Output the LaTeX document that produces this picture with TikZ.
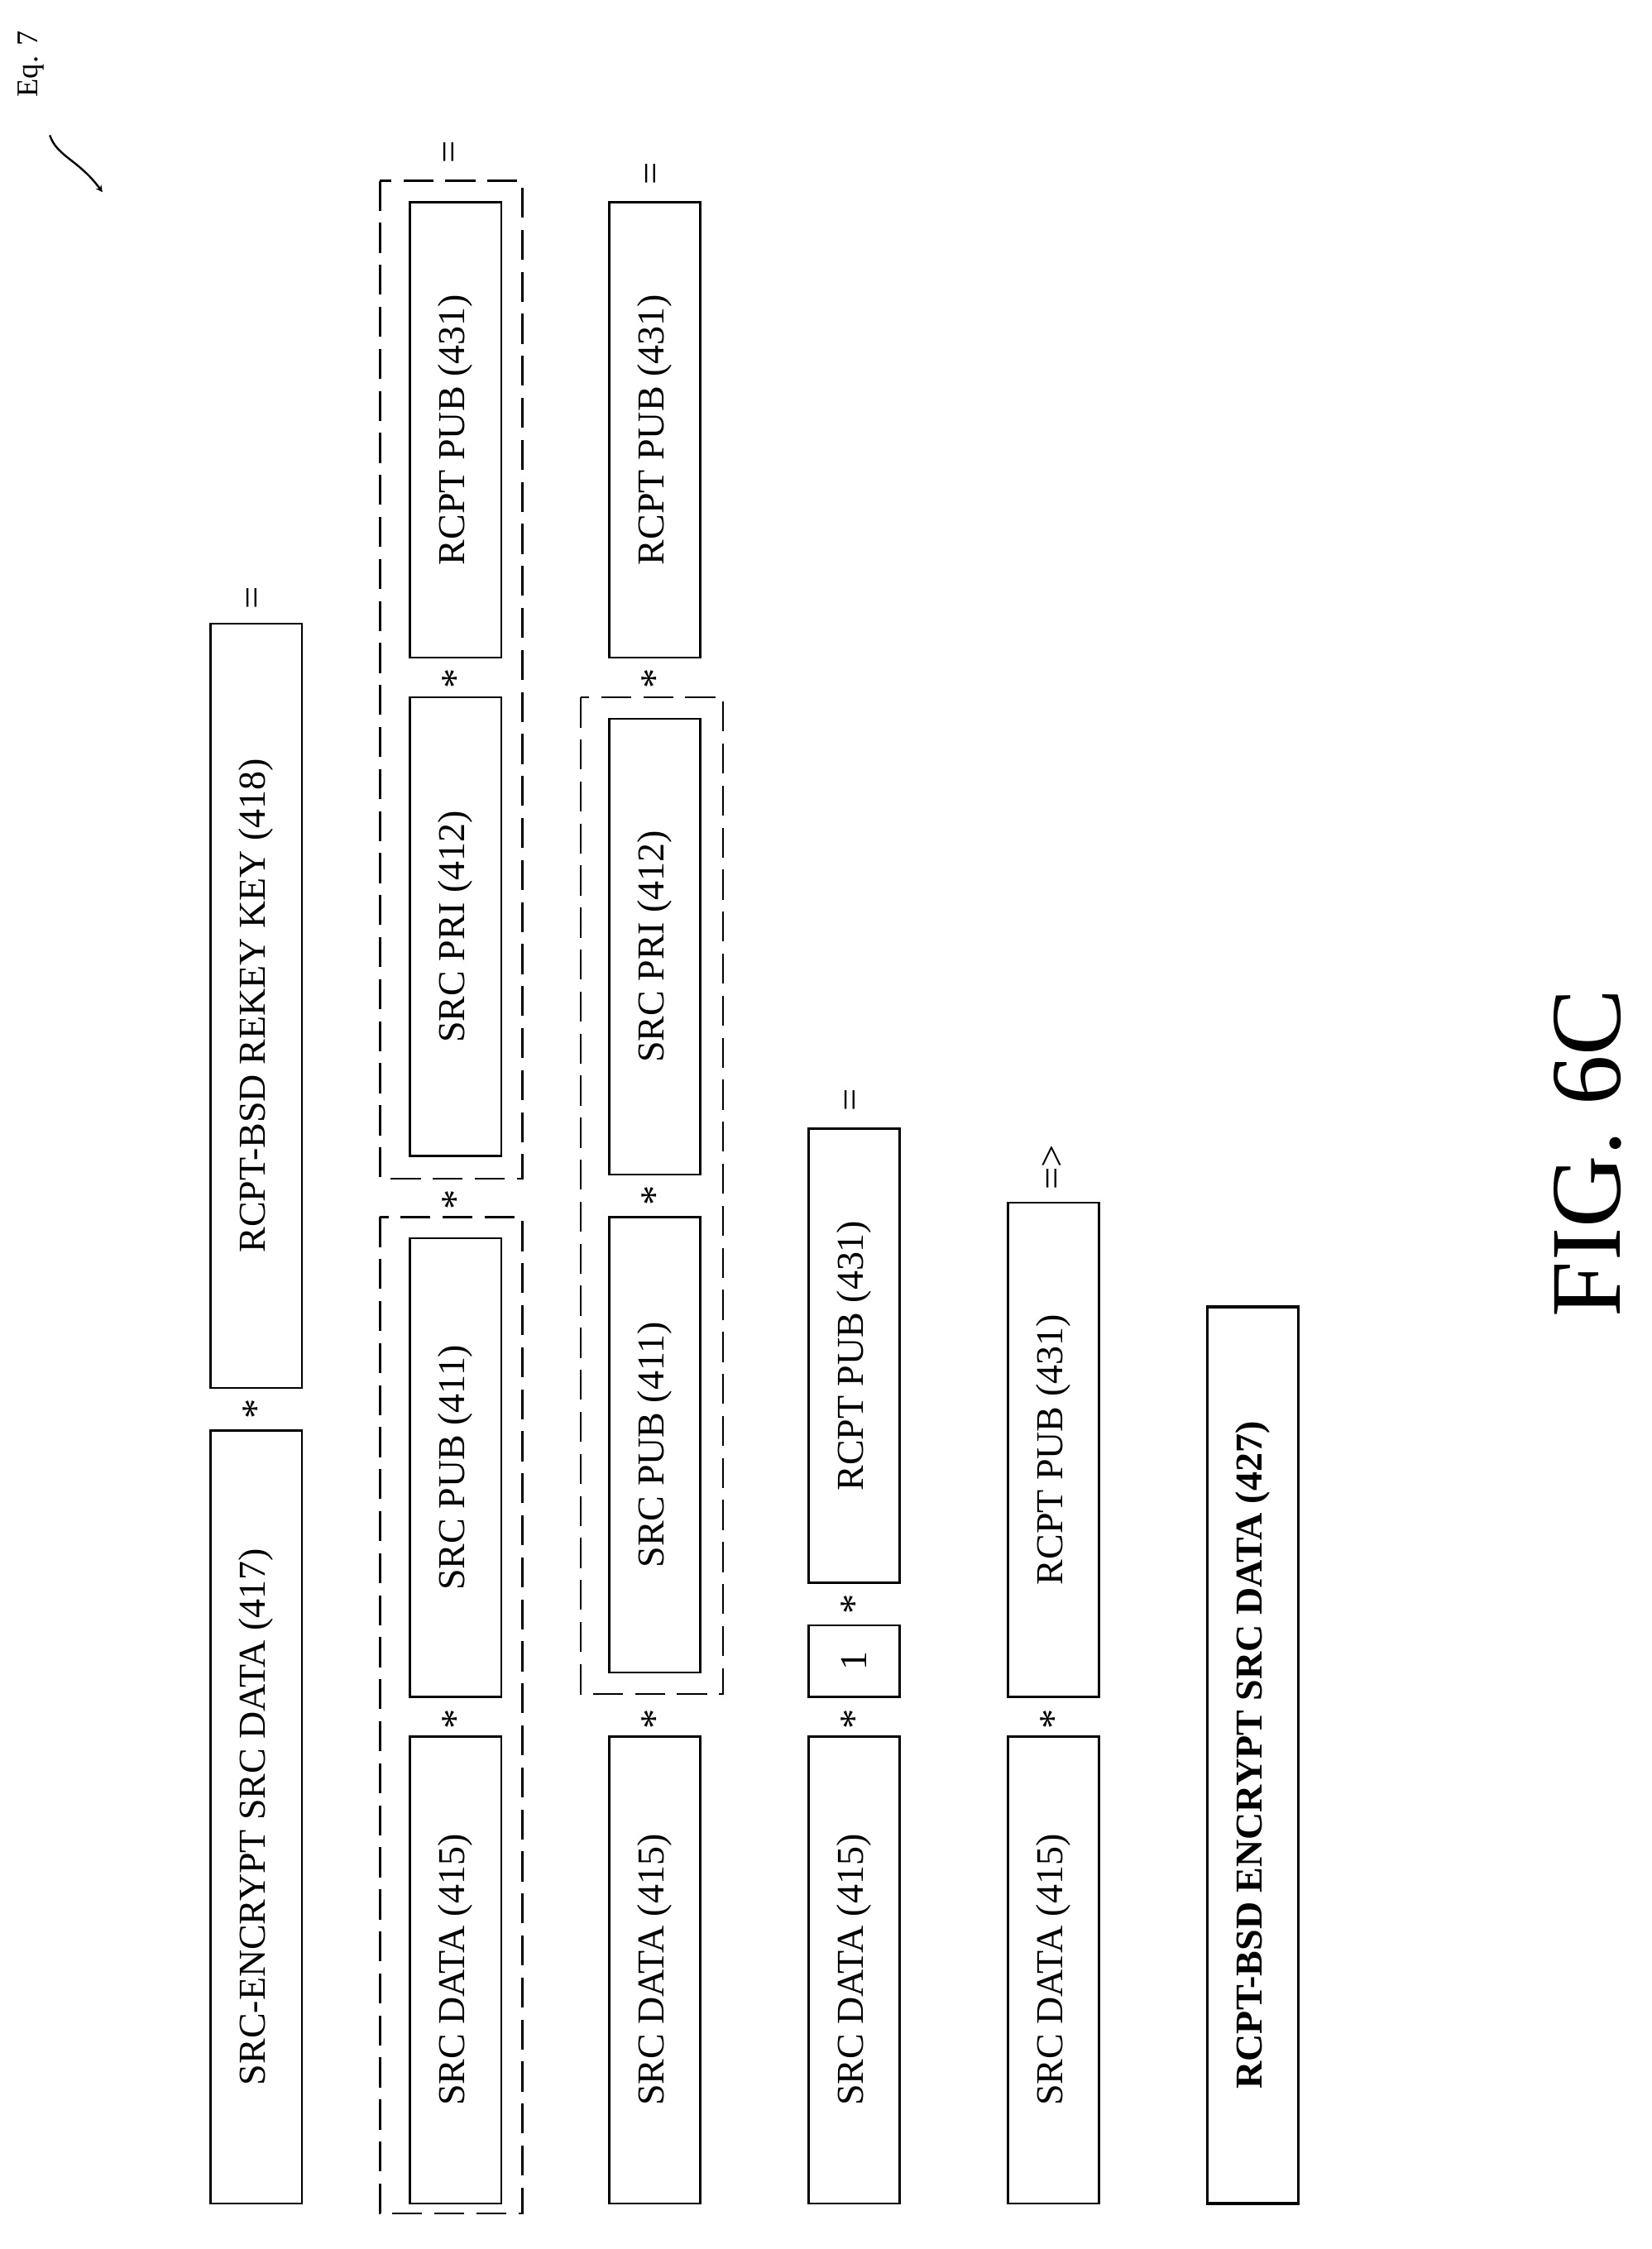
\documentclass[tikz,border=0pt]{standalone}
\usepackage{fontspec}
\setmainfont{Liberation Serif}
\begin{document}
\begin{tikzpicture}[x=0.05cm,y=-0.05cm,
 box/.style={draw,line width=2pt,rotate=90,minimum height=3.2cm,inner sep=0pt,font=\fontsize{38}{44}\selectfont},
 op/.style={rotate=90,font=\fontsize{40}{44}\selectfont,inner sep=0pt},
 dbox/.style={draw,line width=2pt,dash pattern=on 30pt off 12pt}]
\useasboundingbox (0,0) rectangle (1160,1580);
\newcommand\bx[5]{\node[box,minimum width={#4*0.05cm}] (#1) at (#2,#3) {#5};}
% row 1
\bx{a1}{180}{1276.5}{543}{SRC-ENCRYPT SRC DATA (417)}
\bx{a2}{180}{706.5}{537}{RCPT-BSD REKEY KEY (418)}
\node[op] (s1) at (180,990) {*};
\node[op] (e1) at (180,420) {=};
% row 2
\draw[dbox] (267,855) rectangle (367,1555);
\draw[dbox] (267,127) rectangle (367,828);
\bx{b1}{320}{1384}{328}{SRC DATA (415)}
\bx{b2}{320}{1031}{322}{SRC PUB (411)}
\bx{b3}{320}{651}{322}{SRC PRI (412)}
\bx{b4}{320}{302}{320}{RCPT PUB (431)}
\node[op] (s21) at (320,1208) {*};
\node[op] (s22) at (320,843) {*};
\node[op] (s23) at (320,477) {*};
\node[op] (e2) at (318,107) {=};
% row 3
\draw[dbox] (408,490) rectangle (508,1190);
\bx{c1}{460}{1384}{328}{SRC DATA (415)}
\bx{c2}{460}{1015}{320}{SRC PUB (411)}
\bx{c3}{460}{665}{320}{SRC PRI (412)}
\bx{c4}{460}{302}{320}{RCPT PUB (431)}
\node[op] (s31) at (460,1208) {*};
\node[op] (s32) at (460,840) {*};
\node[op] (s33) at (460,477) {*};
\node[op] (e3) at (460,122) {=};
% row 4
\bx{d1}{600}{1384}{328}{SRC DATA (415)}
\bx{d2}{600}{1167}{50}{1}
\bx{d3}{600}{952.5}{319}{RCPT PUB (431)}
\node[op] (s41) at (600,1208) {*};
\node[op] (s42) at (600,1127) {*};
\node[op] (e4) at (600,773) {=};
% row 5
\bx{f1}{740}{1384}{328}{SRC DATA (415)}
\bx{f2}{740}{1018.5}{347}{RCPT PUB (431)}
\node[op] (s51) at (740,1208) {*};
\node[op] (e5) at (740,820) {=>};
% row 6
\node[box,line width=3pt,minimum width={630*0.05cm},font=\fontsize{38}{44}\selectfont\bfseries] (g1) at (880,1233) {RCPT-BSD ENCRYPT SRC DATA (427)};
% figure label
\node[rotate=90,font=\fontsize{100}{110}\selectfont] (fig) at (1115,810) {FIG. 6C};
\node[rotate=90,font=\fontsize{30}{34}\selectfont] (eq) at (22,45) {Eq. 7};
\coordinate (q0) at (35,95);
\coordinate (q1) at (72,135);
\draw[line width=2pt,->,>=stealth] (q0) .. controls (40,110) and (55,112) .. (q1);
\end{tikzpicture}
\end{document}
